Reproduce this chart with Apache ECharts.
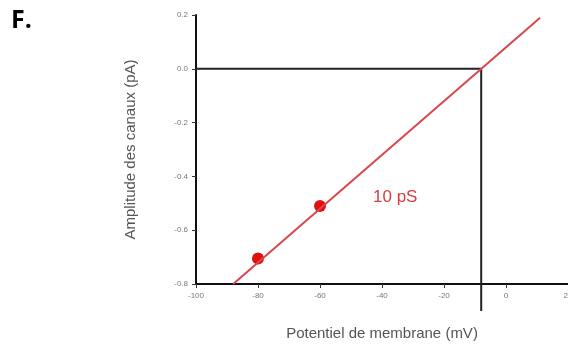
<!DOCTYPE html>
<html>
<head>
<meta charset="utf-8">
<script src="https://cdn.jsdelivr.net/npm/echarts@6/dist/echarts.min.js"></script>
<style>
  html, body { margin: 0; padding: 0; background: #fff; }
  #chart { width: 568px; height: 351px; }
</style>
</head>
<body>
<div id="chart"></div>
<script>
// axes
var xTicks = [-100, -80, -60, -40, -20, 0, 20];
var yTicks = [-0.8, -0.6, -0.4, -0.2, 0.0, 0.2];

// mesures
var points = [[-80, -0.705], [-60, -0.51]];
// droite d'ajustement (10 pS)
var fitLine = [[-88, -0.8], [11, 0.19]];
// potentiel d'inversion
var reversal = [[-100, 0], [-8, 0], [-8, -0.9]];

var myChart = echarts.init(document.getElementById('chart'));
var option = {
    animation: false,
    graphic: [
        {type: 'text', left: 11, top: 8, style: {text: 'F.', fontSize: 25, fontWeight: 'bold', fill: '#000', fontFamily: 'Open Sans'}},
        {type: 'text', left: 373, top: 189, style: {text: '10 pS', fontSize: 17, fill: '#d63c3c', fontFamily: 'Liberation Sans'}}
    ],
    grid: {left: 196, right: 0, top: 15, bottom: 67, outerBoundsMode: 'none'},
    xAxis: {
        type: 'value',
        min: xTicks[0],
        max: xTicks[xTicks.length - 1],
        interval: 20,
        name: 'Potentiel de membrane (mV)',
        nameLocation: 'middle',
        nameGap: 42,
        nameTextStyle: {fontSize: 15, color: '#555', fontFamily: 'Liberation Sans'},
        axisLine: {onZero: false, lineStyle: {color: '#111', width: 2}},
        axisTick: {show: true, length: 4, lineStyle: {color: '#333'}},
        axisLabel: {fontSize: 8, color: '#777', margin: 8},
        splitLine: {show: false}
    },
    yAxis: {
        type: 'value',
        min: yTicks[0],
        max: yTicks[yTicks.length - 1],
        interval: 0.2,
        name: 'Amplitude des canaux (pA)',
        nameLocation: 'middle',
        nameGap: 58,
        nameTextStyle: {fontSize: 15, color: '#555', fontFamily: 'Liberation Sans'},
        axisLine: {onZero: false, lineStyle: {color: '#111', width: 2}},
        axisTick: {show: true, length: 4, lineStyle: {color: '#333'}},
        axisLabel: {fontSize: 8, color: '#777', margin: 8, formatter: function (v) { return v.toFixed(1); }},
        splitLine: {show: false}
    },
    series: [
        {
            type: 'line',
            data: reversal,
            clip: false,
            symbol: 'none',
            lineStyle: {color: '#222', width: 2}
        },
        {
            type: 'line',
            data: fitLine,
            symbol: 'none',
            lineStyle: {color: '#d9474a', width: 2}
        },
        {
            type: 'scatter',
            data: points,
            symbolSize: 12,
            itemStyle: {color: '#e01010', opacity: 1}
        }
    ]
};
myChart.setOption(option);
</script>
</body>
</html>
